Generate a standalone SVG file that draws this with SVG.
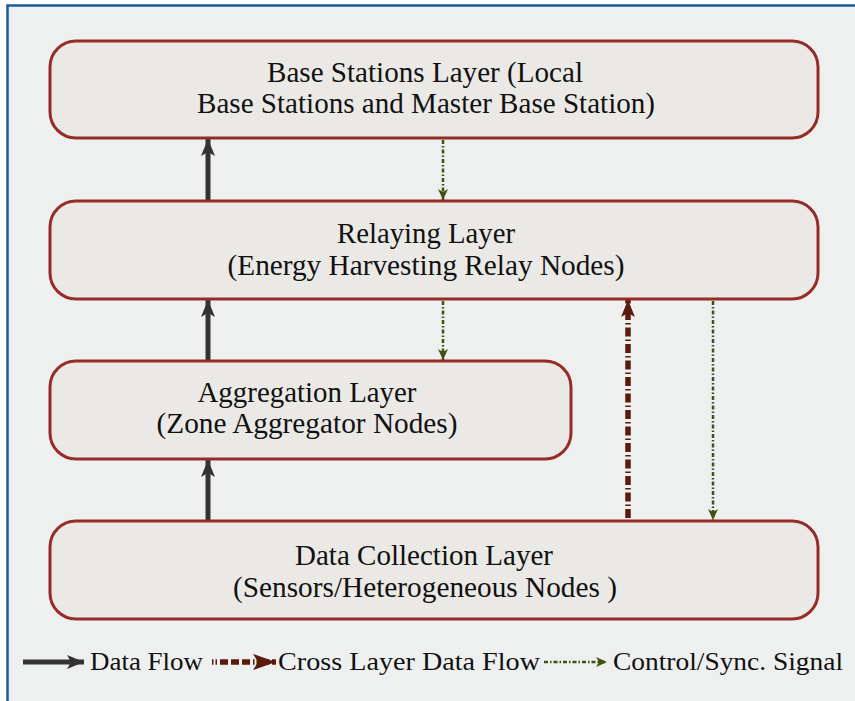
<svg xmlns="http://www.w3.org/2000/svg" width="855" height="701" viewBox="0 0 855 701">
<style>
.box{fill:#ebe9e6;stroke:#962c26;stroke-width:3}
.t{font-family:"Liberation Serif","Times New Roman",serif;font-size:29px;fill:#111111;text-anchor:middle}
.lg{font-family:"Liberation Serif","Times New Roman",serif;font-size:26px;fill:#111111}
.data{stroke:#333333;stroke-width:5;fill:none}
.cross{stroke:#5a1a0c;stroke-width:5.5;fill:none;stroke-dasharray:9 3 1.5 3}
.ctrl{stroke:#3d5213;stroke-width:2.5;fill:none;stroke-dasharray:4 2 1.5 2}
</style>
<defs>
<marker id="mData" markerUnits="userSpaceOnUse" markerWidth="18" markerHeight="14" refX="17" refY="7" orient="auto"><path d="M0,0 L17,7 L0,14 L4,7 Z" fill="#333333"/></marker>
<marker id="mCross" markerUnits="userSpaceOnUse" markerWidth="18" markerHeight="14" refX="17" refY="7" orient="auto"><path d="M0,0 L17,7 L0,14 L4,7 Z" fill="#5a1a0c"/></marker>
<marker id="mCrossL" markerUnits="userSpaceOnUse" markerWidth="24" markerHeight="16" refX="23" refY="8" orient="auto"><path d="M0,0 L23,8 L0,16 L5,8 Z" fill="#5a1a0c"/></marker>
<marker id="mCtrl" markerUnits="userSpaceOnUse" markerWidth="12" markerHeight="10" refX="11" refY="5" orient="auto"><path d="M0,0 L11,5 L0,10 L3,5 Z" fill="#3d5213"/></marker>
</defs>
<rect x="0" y="0" width="855" height="701" fill="#ffffff"/>
<rect x="7.5" y="5.5" width="900" height="720" fill="#eef0f0" stroke="#1d5a9a" stroke-width="2.5"/>

<g id="connectors">
<line class="data" x1="208" y1="201" x2="208" y2="139" marker-end="url(#mData)"/>
<line class="data" x1="208" y1="361" x2="208" y2="300" marker-end="url(#mData)"/>
<line class="data" x1="208" y1="521" x2="208" y2="460" marker-end="url(#mData)"/>
<line class="ctrl" x1="443" y1="140" x2="443" y2="200" marker-end="url(#mCtrl)"/>
<line class="ctrl" x1="443" y1="301" x2="443" y2="360" marker-end="url(#mCtrl)"/>
<line class="ctrl" x1="713" y1="301" x2="713" y2="520" marker-end="url(#mCtrl)"/>
<line class="cross" x1="628" y1="518" x2="628" y2="300" marker-end="url(#mCross)"/>
</g>

<g id="base-stations">
<rect class="box" x="50" y="41" width="768" height="97" rx="26" ry="26"/>
<text class="t" x="425" y="82" textLength="316" lengthAdjust="spacingAndGlyphs">Base Stations Layer (Local</text>
<text class="t" x="426" y="113" textLength="458" lengthAdjust="spacingAndGlyphs">Base Stations and Master Base Station)</text>
</g>
<g id="relaying">
<rect class="box" x="50" y="201" width="768" height="98" rx="26" ry="26"/>
<text class="t" x="426" y="243" textLength="178" lengthAdjust="spacingAndGlyphs">Relaying Layer</text>
<text class="t" x="426" y="275" textLength="397" lengthAdjust="spacingAndGlyphs">(Energy Harvesting Relay Nodes)</text>
</g>
<g id="aggregation">
<rect class="box" x="50" y="361" width="521" height="98" rx="26" ry="26"/>
<text class="t" x="307" y="402" textLength="219" lengthAdjust="spacingAndGlyphs">Aggregation Layer</text>
<text class="t" x="307" y="433" textLength="301" lengthAdjust="spacingAndGlyphs">(Zone Aggregator Nodes)</text>
</g>
<g id="data-collection">
<rect class="box" x="50" y="521" width="768" height="98" rx="26" ry="26"/>
<text class="t" x="424" y="565" textLength="258" lengthAdjust="spacingAndGlyphs">Data Collection Layer</text>
<text class="t" x="425" y="597" textLength="384" lengthAdjust="spacingAndGlyphs">(Sensors/Heterogeneous Nodes )</text>
</g>

<g id="legend">
<line class="data" x1="23" y1="662" x2="84" y2="662" marker-end="url(#mData)"/>
<text class="lg" x="90" y="670" textLength="113" lengthAdjust="spacingAndGlyphs">Data Flow</text>
<line class="cross" x1="212" y1="662" x2="276" y2="662" marker-end="url(#mCrossL)" style="stroke-dasharray:1.5 2 1.5 3 8 3 8 3 8 3"/>
<text class="lg" x="278" y="670" textLength="262" lengthAdjust="spacingAndGlyphs">Cross Layer Data Flow</text>
<line class="ctrl" x1="544" y1="662" x2="607" y2="662" marker-end="url(#mCtrl)"/>
<text class="lg" x="613" y="670" textLength="230" lengthAdjust="spacingAndGlyphs">Control/Sync. Signal</text>
</g>
</svg>
